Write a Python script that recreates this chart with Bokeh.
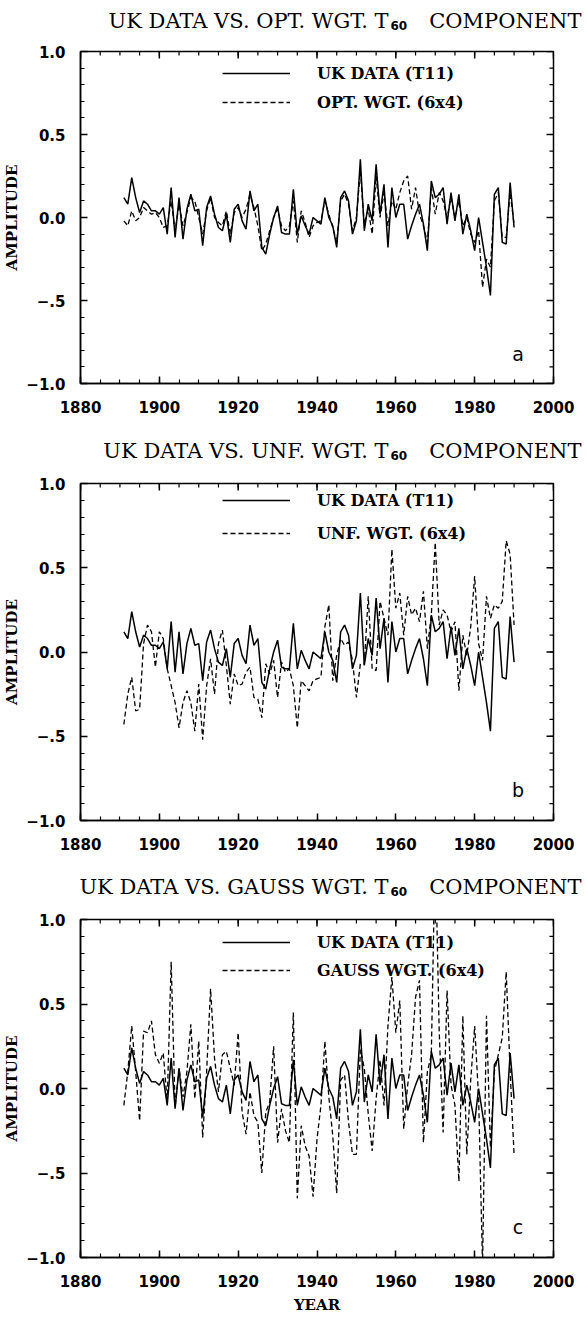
from bokeh.plotting import figure
from bokeh.models import Range1d, FixedTicker, LinearAxis, Label, Legend, LegendItem, ColumnDataSource
from bokeh.core.properties import value
from bokeh.layouts import column
from bokeh.embed import file_html
from bokeh.resources import INLINE

# ---------------- data ----------------
YEARS = list(range(1891, 1991))

UK_DATA = [
    0.12, 0.08, 0.24, 0.12, 0.03, 0.10, 0.08, 0.04, 0.04, 0.02,   # 1891-1900
    0.06, -0.10, 0.18, -0.12, 0.12, -0.13, 0.05, 0.14, 0.04, 0.05,  # 1901-1910
    -0.17, 0.06, 0.13, 0.02, -0.06, -0.08, 0.02, -0.15, 0.05, 0.08,  # 1911-1920
    -0.02, -0.07, 0.16, 0.04, 0.08, -0.18, -0.22, -0.10, 0.00, 0.07,  # 1921-1930
    -0.09, -0.10, -0.10, 0.17, -0.10, 0.01, -0.05, -0.10, 0.00, -0.02,  # 1931-1940
    -0.04, 0.12, 0.00, -0.05, -0.18, 0.12, 0.16, 0.10, -0.10, -0.02,  # 1941-1950
    0.35, -0.08, 0.08, -0.02, 0.32, 0.02, 0.20, -0.18, 0.18, 0.00,  # 1951-1960
    0.08, 0.08, -0.13, -0.05, 0.02, 0.08, -0.04, -0.20, 0.22, 0.12,  # 1961-1970
    0.14, 0.18, -0.04, 0.15, -0.02, 0.14, -0.10, 0.02, -0.08, -0.20,  # 1971-1980
    0.00, -0.15, -0.30, -0.47, 0.14, 0.18, -0.15, -0.16, 0.21, -0.06,  # 1981-1990
]

OPT_WGT = [
    -0.02, -0.05, 0.04, -0.02, 0.00, 0.06, 0.04, 0.02, 0.03, 0.00,
    -0.06, -0.05, 0.10, -0.08, 0.08, -0.05, 0.03, 0.12, 0.10, 0.00,
    -0.10, 0.04, 0.12, 0.00, -0.03, -0.05, 0.04, -0.10, 0.03, 0.06,
    0.00, 0.05, 0.14, 0.06, -0.05, -0.20, -0.16, -0.08, 0.00, 0.05,
    -0.05, -0.08, -0.05, 0.10, -0.15, 0.04, -0.03, -0.12, -0.05, -0.03,
    -0.02, 0.10, 0.02, -0.06, -0.15, 0.10, 0.14, 0.08, -0.08, 0.00,
    0.28, -0.04, 0.05, -0.10, 0.25, 0.00, 0.15, -0.05, 0.10, 0.05,
    0.15, 0.22, 0.25, 0.05, 0.18, 0.02, -0.05, -0.15, 0.18, 0.02,
    0.15, 0.10, 0.00, 0.12, 0.00, 0.10, -0.05, 0.00, -0.10, -0.15,
    -0.08, -0.42, -0.25, -0.30, 0.10, 0.15, -0.12, -0.12, 0.15, -0.04,
]

UNF_WGT = [
    -0.43, -0.25, -0.15, -0.35, -0.34, 0.05, 0.16, 0.12, -0.09, 0.12,
    0.08, -0.10, -0.20, -0.30, -0.45, -0.30, -0.23, -0.30, -0.47, -0.19,
    -0.52, -0.20, -0.04, -0.25, 0.05, 0.13, -0.08, -0.31, -0.13, -0.20,
    -0.19, -0.12, -0.09, -0.27, -0.28, -0.39, -0.07, -0.13, -0.05, -0.27,
    -0.06, -0.12, -0.10, -0.20, -0.45, -0.17, -0.20, -0.23, -0.17, -0.16,
    -0.15, 0.15, 0.28, -0.17, -0.02, 0.08, 0.04, 0.06, -0.05, -0.27,
    -0.07, -0.07, 0.33, -0.10, -0.11, 0.30, 0.20, 0.10, 0.61, 0.26,
    0.35, 0.10, 0.33, 0.22, 0.26, 0.18, 0.36, 0.02, 0.22, 0.65,
    0.16, 0.25, 0.22, 0.12, 0.18, -0.23, 0.10, -0.02, 0.15, 0.45,
    0.05, -0.05, 0.33, 0.20, 0.28, 0.26, 0.30, 0.66, 0.58, 0.16,
]

GAUSS_WGT = [
    -0.10, 0.10, 0.37, 0.10, -0.19, 0.34, 0.33, 0.40, 0.20, 0.15,
    0.21, -0.08, 0.75, -0.11, 0.12, -0.05, 0.10, 0.38, -0.06, 0.28,
    -0.29, 0.10, 0.59, 0.18, -0.02, 0.20, 0.22, 0.12, 0.02, 0.33,
    -0.14, -0.27, -0.02, -0.16, -0.20, -0.50, -0.14, -0.08, 0.25, -0.32,
    -0.12, -0.25, -0.32, 0.45, -0.65, -0.22, -0.34, -0.40, -0.64, -0.30,
    -0.10, 0.28, -0.05, -0.28, -0.62, 0.05, 0.08, -0.20, -0.39, -0.39,
    0.23, 0.12, -0.15, -0.37, -0.06, 0.17, -0.10, 0.37, 0.66, 0.33,
    0.52, -0.24, 0.02, 0.20, 0.54, 0.64, -0.32, 0.10, 0.20, 1.45,
    0.34, -0.26, 0.58, 0.02, -0.10, -0.55, 0.43, -0.39, 0.05, 0.37,
    -0.05, -1.05, 0.43, -0.35, 0.10, 0.20, 0.30, 0.69, 0.10, -0.39,
]

X_MAJOR = [1880, 1900, 1920, 1940, 1960, 1980, 2000]
X_MINOR = [1880, 1885, 1890, 1895, 1900, 1905, 1910, 1915, 1920, 1925, 1930, 1935,
           1940, 1945, 1950, 1955, 1960, 1965, 1970, 1975, 1980, 1985, 1990, 1995, 2000]
Y_MAJOR = [-1.0, -0.5, 0.0, 0.5, 1.0]
Y_MAJOR_LABELS = ["\u22121.0", "\u2212.5", "0.0", "0.5", "1.0"]
Y_MINOR = [-1.0, -0.9, -0.8, -0.7, -0.6, -0.5, -0.4, -0.3, -0.2, -0.1, 0.0,
           0.1, 0.2, 0.3, 0.4, 0.5, 0.6, 0.7, 0.8, 0.9, 1.0]

PANELS = [
    dict(method="OPT.", values=OPT_WGT, label="OPT. WGT. (6x4)", letter="a",
         t_h=32, t_y=20, top=19, fh=332, bottom=55, leg_top=12, leg_sp=9, xlabel=None),
    dict(method="UNF.", values=UNF_WGT, label="UNF. WGT. (6x4)", letter="b",
         t_h=24, t_y=12, top=21, fh=337, bottom=54, leg_top=7, leg_sp=13, xlabel=None),
    dict(method="GAUSS", values=GAUSS_WGT, label="GAUSS WGT. (6x4)", letter="c",
         t_h=24, t_y=12, top=21, fh=338, bottom=58, leg_top=13, leg_sp=8, xlabel="YEAR"),
]

SERIF = "DejaVu Serif"
SANS = "DejaVu Sans"
LEFT = 80
FRAME_W = 473
RIGHT = 30
TOTAL_W = LEFT + FRAME_W + RIGHT


def style_axis(ax):
    ax.axis_line_color = "black"
    ax.axis_line_width = 1.5
    ax.major_tick_in = 7
    ax.major_tick_out = 0
    ax.minor_tick_in = 4
    ax.minor_tick_out = 0
    ax.major_tick_line_color = "black"
    ax.minor_tick_line_color = "black"
    ax.major_tick_line_width = 1.5
    ax.minor_tick_line_width = 1.2
    ax.major_label_text_font = SANS
    ax.major_label_text_font_style = "bold"
    ax.major_label_text_font_size = "15px"
    ax.major_label_text_color = "black"
    ax.axis_label_text_color = "black"
    ax.axis_label_text_font = SERIF
    ax.axis_label_text_font_style = "bold"


def make_title(cfg):
    h = cfg["t_h"]
    t = figure(frame_width=TOTAL_W, frame_height=h, min_border=0,
               x_range=Range1d(0, TOTAL_W), y_range=Range1d(h, 0),
               x_axis_type=None, y_axis_type=None,
               output_backend="svg", toolbar_location=None)
    try:
        t.frame_align = False
    except Exception:
        pass
    t.outline_line_color = None
    t.grid.visible = False
    ty = cfg["t_y"]
    t.text(x=[388], y=[ty], text=[f"UK DATA VS. {cfg['method']} WGT. T"],
           text_align="right", text_baseline="middle", text_font=value(SERIF),
           text_font_size="21px", text_color="black")
    t.text(x=[390], y=[ty + 5], text=["60"], text_align="left",
           text_baseline="middle", text_font=value(SANS), text_font_style="bold",
           text_font_size="12px", text_color="black")
    t.text(x=[581], y=[ty], text=["COMPONENT"], text_align="right",
           text_baseline="middle", text_font=value(SERIF),
           text_font_size="21px", text_color="black")
    return t


def make_panel(cfg):
    fh = cfg["fh"]
    p = figure(frame_width=FRAME_W, frame_height=fh,
               min_border_left=LEFT, min_border_right=RIGHT,
               min_border_top=cfg["top"], min_border_bottom=cfg["bottom"],
               x_range=Range1d(1880, 2000), y_range=Range1d(-1, 1),
               x_axis_type=None, y_axis_type=None,
               output_backend="svg", toolbar_location=None)
    p.grid.visible = False
    p.outline_line_color = "black"
    p.outline_line_width = 1.5
    p.background_fill_color = "white"
    p.border_fill_color = "white"

    xt = FixedTicker(ticks=X_MAJOR, minor_ticks=X_MINOR)
    yt = FixedTicker(ticks=Y_MAJOR, minor_ticks=Y_MINOR)

    xb = LinearAxis(ticker=xt)
    style_axis(xb)
    xb.major_label_standoff = 17
    if cfg["xlabel"]:
        xb.axis_label = cfg["xlabel"]
        xb.axis_label_text_font_size = "15px"
        xb.axis_label_standoff = 6
    p.add_layout(xb, "below")

    yl = LinearAxis(ticker=yt)
    style_axis(yl)
    yl.major_label_standoff = 15
    yl.major_label_overrides = dict(zip(Y_MAJOR, Y_MAJOR_LABELS))
    yl.axis_label = "AMPLITUDE"
    yl.axis_label_text_font_size = "15px"
    yl.axis_label_standoff = 2
    p.add_layout(yl, "left")

    # mirrored inward ticks on the top and right frame edges (markers half-clipped by the frame)
    top_major = ColumnDataSource(dict(x=X_MAJOR, y=[1.0] * len(X_MAJOR)))
    top_minor = ColumnDataSource(dict(x=X_MINOR, y=[1.0] * len(X_MINOR)))
    right_major = ColumnDataSource(dict(x=[2000] * len(Y_MAJOR), y=Y_MAJOR))
    right_minor = ColumnDataSource(dict(x=[2000] * len(Y_MINOR), y=Y_MINOR))
    p.scatter("x", "y", source=top_major, marker="dash", size=14, angle=1.5708,
              line_color="black", line_width=1.5)
    p.scatter("x", "y", source=top_minor, marker="dash", size=8, angle=1.5708,
              line_color="black", line_width=1.2)
    p.scatter("x", "y", source=right_major, marker="dash", size=14,
              line_color="black", line_width=1.5)
    p.scatter("x", "y", source=right_minor, marker="dash", size=8,
              line_color="black", line_width=1.2)

    src = ColumnDataSource(dict(year=YEARS, uk=UK_DATA, comp=cfg["values"]))
    r_uk = p.line("year", "uk", source=src, line_color="black", line_width=1.5)
    r_cp = p.line("year", "comp", source=src, line_color="black", line_width=1.3,
                  line_dash="5 3")

    gh = 20
    leg_h = 2 * gh + cfg["leg_sp"]
    legend = Legend(items=[LegendItem(label="UK DATA (T11)", renderers=[r_uk]),
                           LegendItem(label=cfg["label"], renderers=[r_cp])],
                    location=(142, fh - cfg["leg_top"] - leg_h),
                    orientation="vertical", padding=0, margin=0,
                    spacing=cfg["leg_sp"], glyph_width=68, glyph_height=gh,
                    label_height=gh, label_standoff=27,
                    border_line_color=None, background_fill_alpha=0,
                    label_text_font=SERIF, label_text_font_style="bold",
                    label_text_font_size="16px", label_text_color="black")
    p.add_layout(legend)

    p.add_layout(Label(x=1991, y=-0.82, text=cfg["letter"], text_align="center",
                       text_baseline="middle", text_font=SANS,
                       text_font_size="19px", text_color="black"))
    return p


items = []
for c in PANELS:
    items.append(make_title(c))
    items.append(make_panel(c))
layout = column(*items, spacing=0)

open("out.html", "w").write(file_html(layout, INLINE))
